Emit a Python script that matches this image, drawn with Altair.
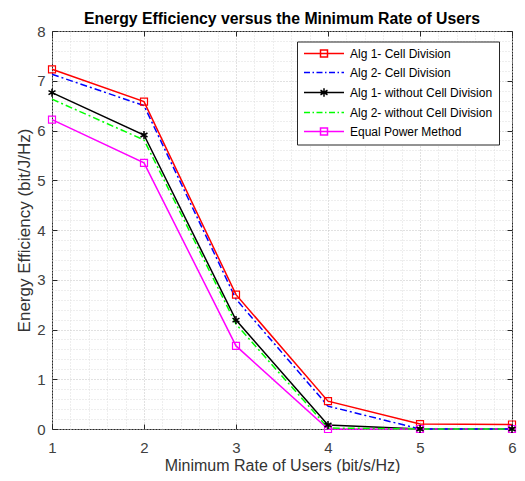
import altair as alt
import pandas as pd

# ---- data ----
x_vals = [1, 2, 3, 4, 5, 6]
series_names = [
    "Alg 1- Cell Division",
    "Alg 2- Cell Division",
    "Alg 1- without Cell Division",
    "Alg 2- without Cell Division",
    "Equal Power Method",
]
alg1_cell = [7.23, 6.58, 2.70, 0.56, 0.10, 0.09]
alg2_cell = [7.13, 6.50, 2.61, 0.46, 0.00, 0.00]
alg1_nocell = [6.76, 5.91, 2.19, 0.08, 0.00, 0.00]
alg2_nocell = [6.63, 5.81, 2.11, 0.02, 0.00, 0.00]
equal_power = [6.22, 5.35, 1.67, 0.00, 0.00, 0.00]

x_major = [1, 2, 3, 4, 5, 6]
y_major = [0, 1, 2, 3, 4, 5, 6, 7, 8]
x_minor = [round(1 + 0.2 * i, 1) for i in range(26)]
y_minor = [round(0.2 * i, 1) for i in range(41)]

all_series = [alg1_cell, alg2_cell, alg1_nocell, alg2_nocell, equal_power]
rows = []
for name, vals in zip(series_names, all_series):
    for xv, yv in zip(x_vals, vals):
        rows.append({"series": name, "x": xv, "y": yv})
df = pd.DataFrame(rows)

# ---- styles ----
FONT = "Liberation Sans"
AX = "#262626"
colors = ["#ff0000", "#0000ff", "#000000", "#00ff00", "#ff00ff"]
sq = "M-1,0H7M2.3,-0.7H3.7V0.7H2.3Z"
dd = "M-1,0H0.2M0.7,0H1.0M1.5,0H2.7M3.2,0H3.5M4.0,0H5.2M5.7,0H6.0M6.5,0H7"
st = "M-1,0H7M3,-0.85V0.85M2.3,-0.45L3.7,0.45M2.3,0.45L3.7,-0.45"
legend_shapes = [sq, dd, st, dd, sq]
star_path = "M0,-1V1M-0.87,-0.5L0.87,0.5M-0.87,0.5L0.87,-0.5"

xscale = alt.Scale(domain=[1, 6], nice=False, zero=False)
yscale = alt.Scale(domain=[0, 8], nice=False, zero=False)
color_scale = alt.Scale(domain=series_names, range=colors)
shape_scale = alt.Scale(domain=series_names, range=legend_shapes)

is_int = "abs(datum.value - round(datum.value)) < 0.001"

grid_x_axis = alt.Axis(orient="top", values=x_minor, grid=True, gridDash=[1, 2],
                       gridColor={"condition": {"test": is_int, "value": "#c2c2c2"}, "value": "#dcdcdc"},
                       gridWidth=1, ticks=False, labels=False, domain=False, title=None)
grid_y_axis = alt.Axis(orient="right", values=y_minor, grid=True, gridDash=[1, 2],
                       gridColor={"condition": {"test": is_int, "value": "#c2c2c2"}, "value": "#dcdcdc"},
                       gridWidth=1, ticks=False, labels=False, domain=False, title=None)

tick_x_axis = alt.Axis(orient="top", values=x_major, offset=-5, tickSize=5, ticks=True,
                       tickColor=AX, tickWidth=1, labels=False, domain=False, grid=False, title=None)
tick_y_axis = alt.Axis(orient="right", values=y_major, offset=-5, tickSize=5, ticks=True,
                       tickColor=AX, tickWidth=1, labels=False, domain=False, grid=False, title=None)

main_x_axis = alt.Axis(orient="bottom", values=x_major, offset=-5, tickSize=5, ticks=True,
                       tickColor=AX, tickWidth=1, domain=False, grid=False,
                       labelFont=FONT, labelFontSize=15, labelColor="#404040", labelPadding=11,
                       labelFlush=False, labelOverlap=False,
                       title="Minimum Rate of Users (bit/s/Hz)", titleFont=FONT, titleFontSize=16,
                       titleFontWeight="normal", titleColor="#333333", titlePadding=2)
main_y_axis = alt.Axis(orient="left", values=y_major, offset=-5, tickSize=5, ticks=True,
                       tickColor=AX, tickWidth=1, domain=False, grid=False,
                       labelFont=FONT, labelFontSize=15, labelColor="#404040", labelPadding=7,
                       labelOverlap=False,
                       title="Energy Efficiency (bit/J/Hz)", titleFont=FONT, titleFontSize=17,
                       titleFontWeight="normal", titleColor="#333333", titlePadding=3)

xenc = alt.X("x:Q", scale=xscale, axis=main_x_axis)
yenc = alt.Y("y:Q", scale=yscale, axis=main_y_axis)

leg = alt.Legend(orient="none", legendX=245, legendY=10.5, title=None, symbolSize=100,
                 symbolStrokeWidth=1.5, symbolFillColor="transparent",
                 labelFont=FONT, labelFontSize=12, labelColor="#000000", labelOffset=35,
                 labelExpr="datum.label + '        '", labelLimit=400,
                 fillColor="#ffffff", strokeColor=AX, padding=6, rowPadding=6)

color_enc = alt.Color("series:N", scale=color_scale, legend=leg)

grid_layer = alt.Chart(df).mark_point(opacity=0).encode(
    x=alt.X("x:Q", scale=xscale, axis=grid_x_axis),
    y=alt.Y("y:Q", scale=yscale, axis=grid_y_axis),
)
tick_layer = alt.Chart(df).mark_point(opacity=0).encode(
    x=alt.X("x:Q", scale=xscale, axis=tick_x_axis),
    y=alt.Y("y:Q", scale=yscale, axis=tick_y_axis),
)

solid_lines = alt.Chart(df).transform_filter(
    alt.FieldOneOfPredicate(field="series", oneOf=[series_names[0], series_names[2], series_names[4]])
).mark_line(strokeWidth=1.5).encode(x=xenc, y=yenc, color=color_enc)

dash_lines = alt.Chart(df).transform_filter(
    alt.FieldOneOfPredicate(field="series", oneOf=[series_names[1], series_names[3]])
).mark_line(strokeWidth=1.5, strokeDash=[7, 3, 2, 3]).encode(x=xenc, y=yenc, color=color_enc)

squares = alt.Chart(df).transform_filter(
    alt.FieldOneOfPredicate(field="series", oneOf=[series_names[0], series_names[4]])
).mark_point(shape="square", size=49, filled=False, strokeWidth=1.2, opacity=1).encode(
    x=xenc, y=yenc, color=color_enc,
)
stars = alt.Chart(df).transform_filter(
    alt.FieldEqualPredicate(field="series", equal=series_names[2])
).mark_point(shape=star_path, size=64, filled=False, strokeWidth=1.5, opacity=1).encode(
    x=xenc, y=yenc, color=color_enc,
)
legend_layer = alt.Chart(df).transform_filter("false").mark_point(filled=False, opacity=1).encode(
    x=xenc, y=yenc,
    color=color_enc,
    shape=alt.Shape("series:N", scale=shape_scale, legend=leg),
)

data_layer = alt.layer(solid_lines, dash_lines, squares, stars, legend_layer)

chart = alt.layer(grid_layer, tick_layer, data_layer).resolve_axis(
    x="independent", y="independent"
).properties(
    width=460, height=398,
    title=alt.Title("Energy Efficiency versus the Minimum Rate of Users", font=FONT,
                    fontSize=15.8, fontWeight="bold", color="#000000", anchor="middle",
                    frame="group", offset=-2, dy=2),
    padding={"left": 44, "top": 23, "right": 5, "bottom": 44},
    autosize=alt.AutoSizeParams(type="none"),
    background="#ffffff",
).configure_view(stroke=AX, strokeWidth=1, fill="#ffffff")

chart.save("out.html", embed_options={"renderer": "svg", "actions": False})
